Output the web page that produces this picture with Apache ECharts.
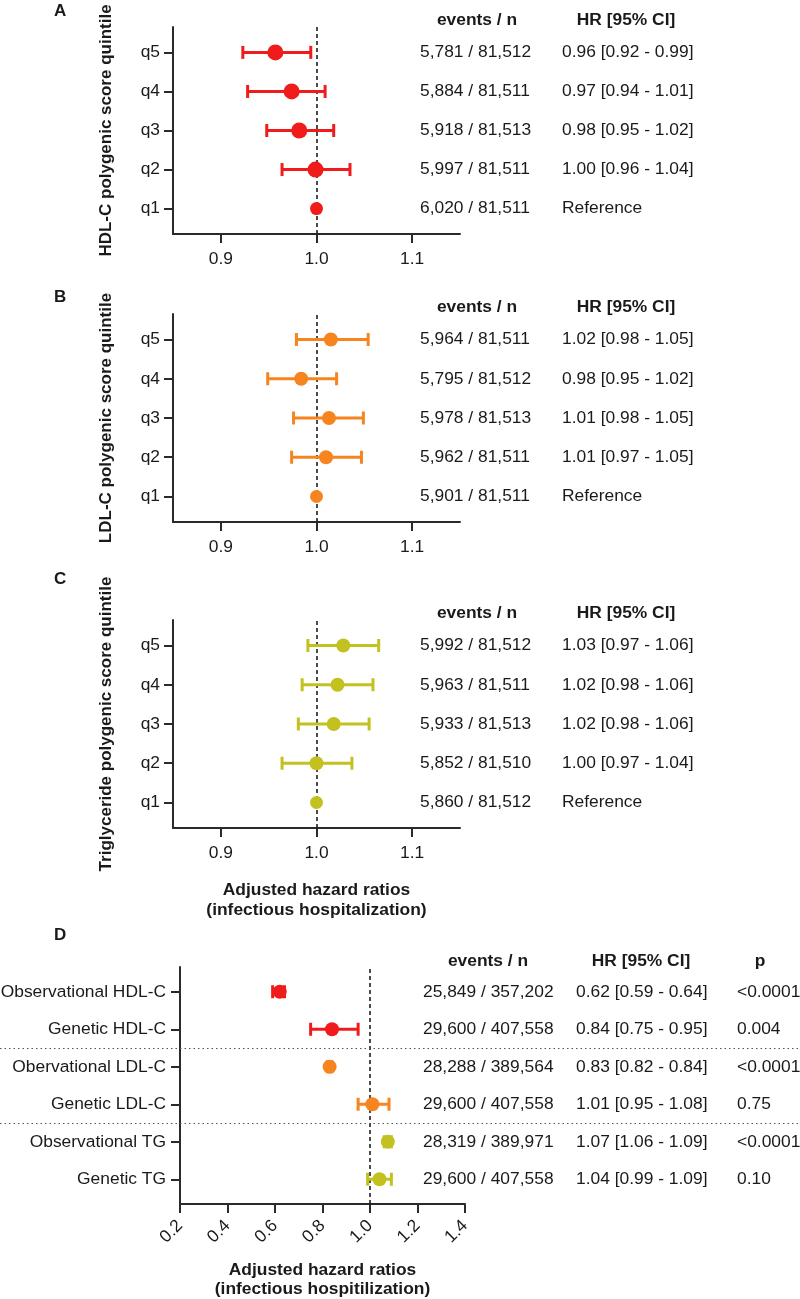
<!DOCTYPE html>
<html><head><meta charset="utf-8">
<script src="https://cdn.jsdelivr.net/npm/echarts@6/dist/echarts.min.js"></script>
<style>html,body{margin:0;padding:0;background:#fff}#c{width:800px;height:1299px}</style>
</head><body><div id="c"></div>
<script>
// ---------- DATA ----------
const quintiles = ['q1', 'q2', 'q3', 'q4', 'q5'];

// Panel A: HDL-C polygenic score quintile
const hrA = [1.000, 0.999, 0.982, 0.974, 0.957];
const loA = [null, 0.964, 0.948, 0.928, 0.923];
const hiA = [null, 1.035, 1.018, 1.009, 0.994];
const eventsA = ['6,020 / 81,511', '5,997 / 81,511', '5,918 / 81,513', '5,884 / 81,511', '5,781 / 81,512'];
const hrTextA = ['Reference', '1.00 [0.96 - 1.04]', '0.98 [0.95 - 1.02]', '0.97 [0.94 - 1.01]', '0.96 [0.92 - 0.99]'];

// Panel B: LDL-C polygenic score quintile
const hrB = [1.000, 1.010, 1.013, 0.984, 1.015];
const loB = [null, 0.974, 0.976, 0.949, 0.979];
const hiB = [null, 1.047, 1.049, 1.021, 1.054];
const eventsB = ['5,901 / 81,511', '5,962 / 81,511', '5,978 / 81,513', '5,795 / 81,512', '5,964 / 81,511'];
const hrTextB = ['Reference', '1.01 [0.97 - 1.05]', '1.01 [0.98 - 1.05]', '0.98 [0.95 - 1.02]', '1.02 [0.98 - 1.05]'];

// Panel C: Triglyceride polygenic score quintile
const hrC = [1.000, 1.000, 1.018, 1.022, 1.028];
const loC = [null, 0.964, 0.981, 0.985, 0.991];
const hiC = [null, 1.037, 1.055, 1.059, 1.065];
const eventsC = ['5,860 / 81,512', '5,852 / 81,510', '5,933 / 81,513', '5,963 / 81,511', '5,992 / 81,512'];
const hrTextC = ['Reference', '1.00 [0.97 - 1.04]', '1.02 [0.98 - 1.06]', '1.02 [0.98 - 1.06]', '1.03 [0.97 - 1.06]'];

// Panel D (top to bottom)
const labelsD = ['Observational HDL-C', 'Genetic HDL-C', 'Obervational LDL-C', 'Genetic LDL-C', 'Observational TG', 'Genetic TG'];
const hrD = [0.62, 0.84, 0.83, 1.01, 1.075, 1.04];
const loD = [0.59, 0.75, 0.82, 0.95, 1.06, 0.99];
const hiD = [0.64, 0.95, 0.84, 1.08, 1.09, 1.09];
const eventsD = ['25,849 / 357,202', '29,600 / 407,558', '28,288 / 389,564', '29,600 / 407,558', '28,319 / 389,971', '29,600 / 407,558'];
const hrTextD = ['0.62 [0.59 - 0.64]', '0.84 [0.75 - 0.95]', '0.83 [0.82 - 0.84]', '1.01 [0.95 - 1.08]', '1.07 [1.06 - 1.09]', '1.04 [0.99 - 1.09]'];
const pD = ['<0.0001', '0.004', '<0.0001', '0.75', '<0.0001', '0.10'];
const groupColorsD = [0, 0, 1, 1, 2, 2];

const ticksABC = [0.9, 1.0, 1.1];

// ---------- STYLE ----------
const FONT = '"Liberation Sans", Arial, Helvetica, sans-serif';
const TXT = '#1a1a1a';
const AX = '#2a2a2a';
const RED = '#f01c1c', ORANGE = '#f6841f', OLIVE = '#c3c120';
const colorsD = [RED, ORANGE, OLIVE];
const FS = 17.4;

const chart = echarts.init(document.getElementById('c'), null, {renderer: 'canvas'});

const grids = [
  {left: 173, top: 27, width: 287, height: 207},
  {left: 173, top: 314, width: 287, height: 208},
  {left: 173, top: 620, width: 287, height: 208},
  {left: 180, top: 967, width: 285, height: 237}
].map(g => Object.assign(g, {containLabel: false, outerBoundsMode: 'none'}));

function xAxisABC(gi, withName) {
  const ax = {
    type: 'value', gridIndex: gi, min: 0.85, max: 1.15,
    axisLine: {show: true, lineStyle: {color: AX, width: 2}},
    axisTick: {show: true, length: 9, lineStyle: {color: AX, width: 2}, customValues: ticksABC},
    axisLabel: {show: true, customValues: ticksABC, formatter: v => v.toFixed(1), fontSize: FS, fontFamily: FONT, color: TXT, margin: 17},
    splitLine: {show: false}
  };
  if (withName) {
    ax.name = 'Adjusted hazard ratios\n(infectious hospitalization)';
    ax.nameLocation = 'middle';
    ax.nameGap = 52;
    ax.nameTextStyle = {fontSize: FS, fontWeight: 'bold', fontFamily: FONT, color: TXT, lineHeight: 20};
  }
  return ax;
}
function yAxisABC(gi, name) {
  return {
    type: 'value', gridIndex: gi, min: 0.35, max: 5.65,
    axisLine: {show: true, lineStyle: {color: AX, width: 2}},
    axisTick: {show: true, length: 9, lineStyle: {color: AX, width: 2}, customValues: [1, 2, 3, 4, 5]},
    axisLabel: {show: true, customValues: [1, 2, 3, 4, 5], formatter: v => quintiles[Math.round(v) - 1], fontSize: FS, fontFamily: FONT, color: TXT, margin: 13},
    splitLine: {show: false},
    name: name, nameLocation: 'middle', nameRotate: 90, nameGap: 58,
    nameTextStyle: {fontSize: 17, fontWeight: 'bold', fontFamily: FONT, color: TXT}
  };
}

function errSeries(gi, lo, hi, yVals, colorFn) {
  const data = [];
  lo.forEach((l, i) => { if (l != null) data.push([yVals[i], l, hi[i], i]); });
  return {
    type: 'custom', xAxisIndex: gi, yAxisIndex: gi, z: 2, silent: true,
    data: data, encode: {x: [1, 2], y: 0},
    renderItem(params, api) {
      const y = api.value(0), l = api.value(1), h = api.value(2), idx = api.value(3);
      const p1 = api.coord([l, y]), p2 = api.coord([h, y]);
      const c = colorFn(idx);
      const st = {stroke: c, lineWidth: 3};
      const cap = 6.5;
      return {type: 'group', children: [
        {type: 'line', shape: {x1: p1[0], y1: p1[1], x2: p2[0], y2: p2[1]}, style: st},
        {type: 'line', shape: {x1: p1[0], y1: p1[1] - cap, x2: p1[0], y2: p1[1] + cap}, style: st},
        {type: 'line', shape: {x1: p2[0], y1: p2[1] - cap, x2: p2[0], y2: p2[1] + cap}, style: st}
      ]};
    }
  };
}

function pointSeries(gi, hr, yVals, sizeFn, colorFn) {
  return {
    type: 'scatter', xAxisIndex: gi, yAxisIndex: gi, z: 3, silent: true,
    data: hr.map((v, i) => ({value: [v, yVals[i]], symbolSize: sizeFn(i), itemStyle: {color: colorFn(i), opacity: 1}})),
    symbol: 'circle',
    markLine: {
      silent: true, symbol: ['none', 'none'], z: 1,
      label: {show: false},
      lineStyle: {type: [4, 3], color: '#111', width: 1.5},
      emphasis: {disabled: true},
      data: [{xAxis: 1}]
    }
  };
}

// Table text columns drawn next to each panel, aligned to row positions
function tableSeries(gi, yVals, columns, headerGap) {
  const data = yVals.map((v, i) => [1, v, i]);
  const topVal = Math.max(...yVals);
  data.push([1, topVal, -1]);
  return {
    type: 'custom', xAxisIndex: gi, yAxisIndex: gi, clip: false, silent: true, z: 5,
    data: data, encode: {x: 0, y: 1},
    renderItem(params, api) {
      const idx = api.value(2);
      let py = api.coord([1, api.value(1)])[1];
      const header = idx < 0;
      if (header) py -= headerGap;
      return {type: 'group', children: columns.map(col => ({
        type: 'text',
        style: {
          x: header ? col.hx : col.x, y: py,
          text: header ? col.header : col.texts[idx],
          fill: TXT, fontSize: FS, fontFamily: FONT,
          fontWeight: header ? 'bold' : 'normal',
          align: header ? 'center' : 'left', verticalAlign: 'middle'
        }
      }))};
    }
  };
}

const yABC = [1, 2, 3, 4, 5];
const yD = labelsD.map((_, i) => 6 - i);

const series = [];
[[hrA, loA, hiA, RED, 16, eventsA, hrTextA], [hrB, loB, hiB, ORANGE, 14, eventsB, hrTextB], [hrC, loC, hiC, OLIVE, 14, eventsC, hrTextC]].forEach((p, gi) => {
  const [hr, lo, hi, col, sz, ev, ht] = p;
  series.push(errSeries(gi, lo, hi, yABC, () => col));
  series.push(pointSeries(gi, hr, yABC, i => (i === 0 ? 13 : sz), () => col));
  series.push(tableSeries(gi, yABC, [
    {x: 420, hx: 477, header: 'events / n', texts: ev},
    {x: 562, hx: 626, header: 'HR [95% CI]', texts: ht}
  ], 32));
});

// Panel D
series.push(errSeries(3, loD, hiD, yD, i => colorsD[groupColorsD[i]]));
series.push(pointSeries(3, hrD, yD, () => 14, i => colorsD[groupColorsD[i]]));
series.push(tableSeries(3, yD, [
  {x: 423, hx: 488, header: 'events / n', texts: eventsD},
  {x: 576, hx: 641, header: 'HR [95% CI]', texts: hrTextD},
  {x: 737, hx: 760, header: 'p', texts: pD}
], 31));
// dotted group separators across the full width
series.push({
  type: 'custom', xAxisIndex: 3, yAxisIndex: 3, clip: false, silent: true, z: 1,
  data: [[1, 4.5], [1, 2.5]], encode: {x: 0, y: 1},
  renderItem(params, api) {
    const py = Math.round(api.coord([1, api.value(1)])[1]) + 0.5;
    return {type: 'line', shape: {x1: 0, y1: py, x2: 800, y2: py},
      style: {stroke: '#555', lineWidth: 1.2, lineDash: [1.5, 3]}};
  }
});

const option = {
  backgroundColor: '#fff',
  animation: false,
  title: [
    {text: 'A', left: 54, top: 3},
    {text: 'B', left: 54, top: 289},
    {text: 'C', left: 54, top: 571},
    {text: 'D', left: 54, top: 927}
  ].map(t => Object.assign(t, {textStyle: {fontSize: 17, fontWeight: 'bold', fontFamily: FONT, color: TXT}, padding: 0})),
  grid: grids,
  xAxis: [
    xAxisABC(0, false), xAxisABC(1, false), xAxisABC(2, true),
    {
      type: 'value', gridIndex: 3, min: 0.2, max: 1.4, interval: 0.2,
      axisLine: {show: true, lineStyle: {color: AX, width: 2}},
      axisTick: {show: true, length: 9, lineStyle: {color: AX, width: 2}},
      axisLabel: {show: true, rotate: 45, formatter: v => v.toFixed(1), fontSize: FS, fontFamily: FONT, color: TXT, margin: 19},
      splitLine: {show: false},
      name: 'Adjusted hazard ratios\n(infectious hospitilization)',
      nameLocation: 'middle', nameGap: 57,
      nameTextStyle: {fontSize: FS, fontWeight: 'bold', fontFamily: FONT, color: TXT, lineHeight: 19}
    }
  ],
  yAxis: [
    yAxisABC(0, 'HDL-C polygenic score quintile'),
    yAxisABC(1, 'LDL-C polygenic score quintile'),
    yAxisABC(2, 'Triglyceride polygenic score quintile'),
    {
      type: 'value', gridIndex: 3, min: 0.34, max: 6.66,
      axisLine: {show: true, lineStyle: {color: AX, width: 2}},
      axisTick: {show: true, length: 9, lineStyle: {color: AX, width: 2}, customValues: yD},
      axisLabel: {show: true, customValues: yD, formatter: v => labelsD[6 - Math.round(v)], fontSize: FS, fontFamily: FONT, color: TXT, margin: 14},
      splitLine: {show: false}
    }
  ],
  series: series
};
chart.setOption(option);
</script>
</body></html>
